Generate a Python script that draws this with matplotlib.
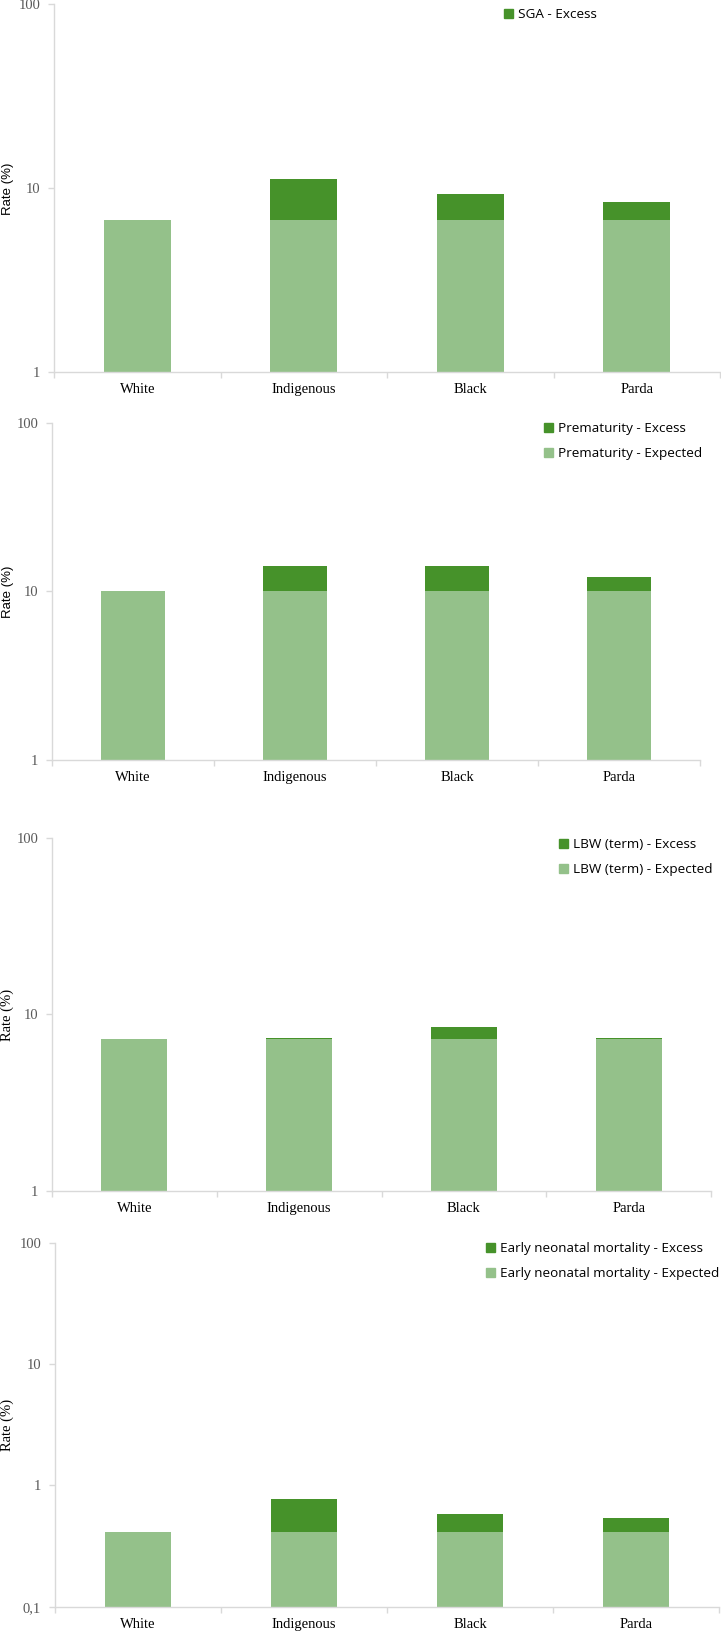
"""
Observed vs expected rates by race/colour, four stacked log panels
"""
import numpy as np
import matplotlib
matplotlib.use("Agg")
import matplotlib.pyplot as plt
from matplotlib.patches import Patch

groups = ["White", "Indigenous", "Black", "Parda"]

sga_expected = [6.72, 6.72, 6.72, 6.72]
sga_excess = [0.0, 4.5, 2.6, 1.7]

prem_expected = [10.0, 10.0, 10.0, 10.0]
prem_excess = [0.0, 4.2, 4.1, 2.2]

lbw_expected = [7.21, 7.21, 7.21, 7.21]
lbw_excess = [0.0, 0.12, 1.22, 0.09]

enm_expected = [0.41, 0.41, 0.41, 0.41]
enm_excess = [0.0, 0.36, 0.17, 0.125]

DARK = "#46922a"
LIGHT = "#94c18a"
GRID = "#d9d9d9"
W, H = 721, 1632

fig = plt.figure(figsize=(W / 100, H / 100), dpi=100)


def px_axes(left, right, top, bottom):
    return fig.add_axes([left / W, 1 - bottom / H, (right - left) / W, (bottom - top) / H])


def panel(box, expected, excess, name, ymin, yticks, ylabels, label_xy, label_serif,
          legend_xy, show_expected=True):
    ax = px_axes(*box)
    x = np.arange(len(groups))
    ax.bar(x, expected, width=0.4, color=LIGHT, zorder=2)
    ax.bar(x, excess, width=0.4, bottom=expected, color=DARK, zorder=2)
    ax.set_yscale("log")
    ax.set_ylim(ymin, 100)
    ax.set_xlim(-0.5, len(groups) - 0.5)
    ax.set_yticks(yticks)
    ax.set_yticklabels(ylabels, family="Liberation Serif", fontsize=10.5, color="#595959")
    ax.yaxis.set_minor_locator(matplotlib.ticker.NullLocator())
    ax.set_xticks(x)
    ax.set_xticklabels(groups, family="Liberation Serif", fontsize=10.5, color="black")
    ax.set_xticks(np.arange(len(groups) + 1) - 0.5, minor=True)
    ax.tick_params(axis="x", which="major", length=0, pad=8)
    ax.tick_params(axis="x", which="minor", length=4, color=GRID, width=1)
    ax.tick_params(axis="y", which="major", length=4, color=GRID, width=1, pad=6)
    for s in ("top", "right"):
        ax.spines[s].set_visible(False)
    for s in ("left", "bottom"):
        ax.spines[s].set_color(GRID)
        ax.spines[s].set_linewidth(1)

    fam = "Liberation Serif" if label_serif else "Liberation Sans"
    fs = 10.5 if label_serif else 9.5
    fig.text(label_xy[0] / W, 1 - label_xy[1] / H, "Rate (%)", rotation=90,
             ha="center", va="center", family=fam, fontsize=fs)

    handles = [Patch(color=DARK, label=f"{name} - Excess")]
    if show_expected:
        handles.append(Patch(color=LIGHT, label=f"{name} - Expected"))
    fig.legend(handles=handles, loc="upper left",
               bbox_to_anchor=(legend_xy[0] / W, 1 - legend_xy[1] / H),
               bbox_transform=fig.transFigure, frameon=False,
               prop={"family": "Open Sans", "size": 9.7},
               handlelength=0.65, handleheight=0.65, handletextpad=0.4,
               labelspacing=0.9, borderpad=0, borderaxespad=0)
    return ax


panel((54, 720, 4.3, 372.3), sga_expected, sga_excess, "SGA", 1,
      [1, 10, 100], ["1", "10", "100"], (8, 189), False, (504, 8), show_expected=False)
panel((52, 700, 422.7, 760), prem_expected, prem_excess, "Prematurity", 1,
      [1, 10, 100], ["1", "10", "100"], (8, 592), False, (544, 422))
panel((52, 711, 837.7, 1190.7), lbw_expected, lbw_excess, "LBW (term)", 1,
      [1, 10, 100], ["1", "10", "100"], (7, 1015), True, (559, 838))
panel((55, 719, 1242.7, 1606.7), enm_expected, enm_excess, "Early neonatal mortality", 0.1,
      [0.1, 1, 10, 100], ["0,1", "1", "10", "100"], (7, 1425), True, (486, 1242))

fig.savefig("out.png", dpi=100)
